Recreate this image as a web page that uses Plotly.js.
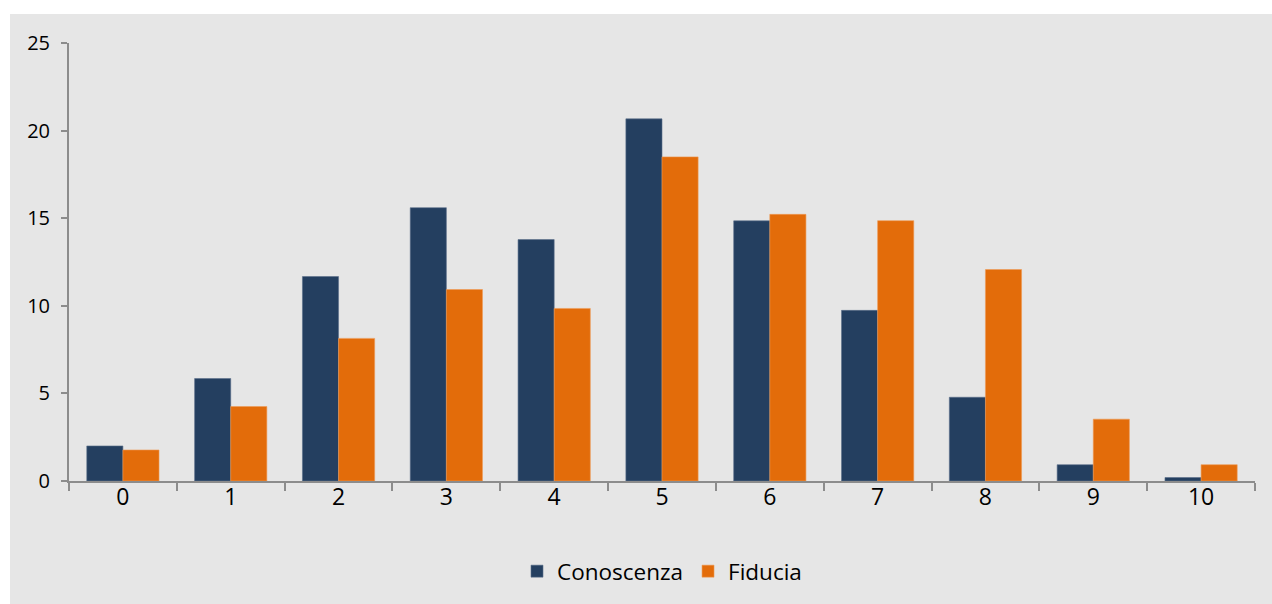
<!DOCTYPE html>
<html>
<head>
<meta charset="utf-8">
<script src="https://cdn.plot.ly/plotly-3.0.1.min.js"></script>
<style>
  html, body { margin: 0; padding: 0; background: #ffffff; width: 1272px; height: 604px; overflow: hidden; }
  #chart { position: absolute; left: 10px; top: 14px; width: 1262px; height: 590px; }
</style>
</head>
<body>
<div id="chart"></div>
<script>
const categories = ["0", "1", "2", "3", "4", "5", "6", "7", "8", "9", "10"];
const conoscenza = [2.0, 5.85, 11.67, 15.6, 13.78, 20.67, 14.85, 9.74, 4.78, 0.93, 0.2];
const fiducia = [1.77, 4.25, 8.14, 10.93, 9.85, 18.5, 15.22, 14.86, 12.07, 3.53, 0.93];
const yTicks = [0, 5, 10, 15, 20, 25];

const fontFam = "Open Sans";

const data = [
  {
    type: "bar", name: "Conoscenza", x: categories, y: conoscenza,
    marker: { color: "#243f60", line: { color: "#5a6f8a", width: 0.6 } }
  },
  {
    type: "bar", name: "Fiducia", x: categories, y: fiducia,
    marker: { color: "#e36c0a", line: { color: "#ee9a55", width: 0.6 } }
  }
];

const layout = {
  width: 1262, height: 590,
  paper_bgcolor: "#e6e6e6",
  plot_bgcolor: "#e6e6e6",
  margin: { l: 59, r: 17, t: 29, b: 122 },
  barmode: "group",
  bargap: 0.33,
  bargroupgap: 0,
  font: { family: fontFam, color: "#000000" },
  showlegend: true,
  legend: {
    orientation: "h", x: 0.5, xanchor: "center", y: -0.155, yanchor: "top",
    font: { size: 22.5, family: fontFam, color: "#000000" },
    itemwidth: 30, traceorder: "normal", bgcolor: "rgba(0,0,0,0)"
  },
  xaxis: {
    type: "category",
    showline: true, linecolor: "#8c8c8c", linewidth: 2,
    ticks: "outside", ticklen: 8, tickwidth: 2, tickcolor: "#8c8c8c",
    tickson: "boundaries",
    showgrid: false, zeroline: false,
    tickfont: { size: 23, family: fontFam, color: "#000000" },
    ticklabelstandoff: -6
  },
  yaxis: {
    range: [0, 25],
    tickvals: yTicks, ticktext: yTicks.map(String),
    showline: true, linecolor: "#8c8c8c", linewidth: 2,
    ticks: "outside", ticklen: 6, tickwidth: 2, tickcolor: "#8c8c8c",
    showgrid: false, zeroline: false,
    tickfont: { size: 20, family: fontFam, color: "#000000" },
    ticklabelstandoff: 7
  }
};

Plotly.newPlot("chart", data, layout, { displayModeBar: false, staticPlot: true });
</script>
</body>
</html>
